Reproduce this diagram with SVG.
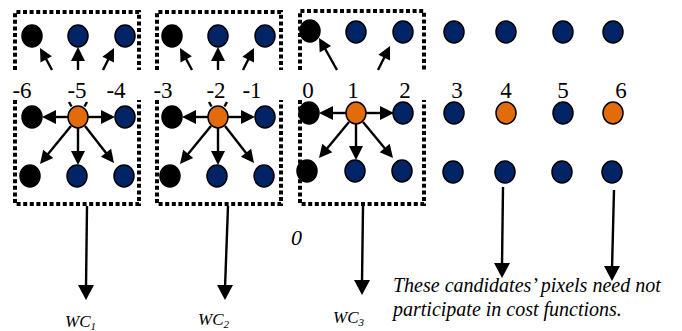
<svg xmlns="http://www.w3.org/2000/svg" width="682" height="331" viewBox="0 0 682 331">
<style>
.frame{fill:none;stroke:#000;stroke-width:4;stroke-dasharray:4 2.6}
.blk{fill:#000;stroke:#000;stroke-width:1.5}
.blu{fill:#002465;stroke:#000;stroke-width:1.5}
.org{fill:#E36C0A;stroke:#000;stroke-width:1.5}
.ln{stroke:#000;stroke-width:2.4;fill:none}
.hd{fill:#000;stroke:none}
.lab{font-family:"Liberation Serif",serif;font-size:23px;fill:#000;text-anchor:middle}
.it{font-family:"Liberation Serif",serif;font-style:italic;fill:#000}
</style>
<rect width="682" height="331" fill="#fff"/>

<!-- frames -->
<g id="frame-wc1"><path class="frame" d="M15,70 V12 H139 V70"/><path class="frame" d="M15,100 V204 H139 V100"/></g>
<g id="frame-wc2"><path class="frame" d="M157,70 V12 H281 V70"/><path class="frame" d="M157,100 V204 H281 V100"/></g>
<g id="frame-wc3"><path class="frame" d="M300,70 V11 H424 V70"/><path class="frame" d="M300,100 V204 H424 V100"/></g>

<!-- connectors -->
<g id="connectors">
 <!-- box 1 -->
 <line class="ln" x1="68" y1="117" x2="50" y2="117"/><polygon class="hd" points="42,117 56,110 56,124"/>
 <line class="ln" x1="88" y1="117" x2="107" y2="117"/><polygon class="hd" points="115,117 101,110 101,124"/>
 <line class="ln" x1="78" y1="128" x2="78" y2="156"/><polygon class="hd" points="78,165 71,151 85,151"/>
 <line class="ln" x1="71" y1="126" x2="46" y2="156.5"/><polygon class="hd" points="40,164 43.2,149.8 53.2,158"/>
 <line class="ln" x1="85" y1="126" x2="108" y2="155.5"/><polygon class="hd" points="114,163 100.9,156.8 111.1,148.8"/>
 <line class="ln" x1="52" y1="70" x2="45" y2="57"/><polygon class="hd" points="40,48 51.9,56.3 40.5,62.5"/>
 <line class="ln" x1="78" y1="70" x2="78" y2="56"/><polygon class="hd" points="78,47 71,61 85,61"/>
 <line class="ln" x1="103" y1="70" x2="109.5" y2="57"/><polygon class="hd" points="114,48 114,62.5 102.4,56.7"/>
 <line class="ln" x1="69" y1="102" x2="71.5" y2="106.5"/>
 <line class="ln" x1="87" y1="102" x2="84.5" y2="106.5"/>
 <!-- box 2 -->
 <line class="ln" x1="208" y1="117" x2="190" y2="117"/><polygon class="hd" points="182,117 196,110 196,124"/>
 <line class="ln" x1="228" y1="117" x2="247" y2="117"/><polygon class="hd" points="255,117 241,110 241,124"/>
 <line class="ln" x1="218" y1="128" x2="218" y2="156"/><polygon class="hd" points="218,165 211,151 225,151"/>
 <line class="ln" x1="211" y1="126" x2="186" y2="156.5"/><polygon class="hd" points="180,164 183.2,149.8 193.2,158"/>
 <line class="ln" x1="225" y1="126" x2="248" y2="155.5"/><polygon class="hd" points="254,163 240.9,156.8 251.1,148.8"/>
 <line class="ln" x1="192" y1="70" x2="185" y2="57"/><polygon class="hd" points="180,48 191.9,56.3 180.5,62.5"/>
 <line class="ln" x1="218" y1="70" x2="218" y2="56"/><polygon class="hd" points="218,47 211,61 225,61"/>
 <line class="ln" x1="243" y1="70" x2="249.5" y2="57"/><polygon class="hd" points="254,48 254,62.5 242.4,56.7"/>
 <line class="ln" x1="209" y1="102" x2="211.5" y2="106.5"/>
 <line class="ln" x1="227" y1="102" x2="224.5" y2="106.5"/>
 <!-- box 3 -->
 <line class="ln" x1="346" y1="113" x2="327" y2="113"/><polygon class="hd" points="319,113 333,106 333,120"/>
 <line class="ln" x1="366" y1="113" x2="386" y2="113"/><polygon class="hd" points="394,113 380,106 380,120"/>
 <line class="ln" x1="356" y1="124" x2="356" y2="152"/><polygon class="hd" points="356,160 349,146 363,146"/>
 <line class="ln" x1="349" y1="122" x2="325" y2="151"/><polygon class="hd" points="319,158 322.3,143.8 332.3,152.2"/>
 <line class="ln" x1="363" y1="122" x2="387" y2="151"/><polygon class="hd" points="393,158 379.7,152.2 389.7,143.8"/>
 <line class="ln" x1="337" y1="70" x2="323" y2="45"/><polygon class="hd" points="319,38 331.1,46.1 319.7,52.5"/>
 <line class="ln" x1="378" y1="70" x2="386" y2="54"/><polygon class="hd" points="390,46 390,60.5 378.4,54.7"/>
 <!-- outputs -->
 <line class="ln" x1="87" y1="206" x2="86" y2="288"/><polygon class="hd" points="86,300 78,285 94,285"/>
 <line class="ln" x1="228" y1="206" x2="225" y2="288"/><polygon class="hd" points="225,300 217,285 233,285"/>
 <line class="ln" x1="363" y1="206" x2="362" y2="283"/><polygon class="hd" points="362,295 354,280 370,280"/>
 <line class="ln" x1="503" y1="187" x2="502" y2="266"/><polygon class="hd" points="502,278 494,263 510,263"/>
 <line class="ln" x1="614" y1="190" x2="612" y2="269"/><polygon class="hd" points="612,281 604,266 620,266"/>
</g>

<!-- box 1 nodes -->
<g id="n-b1-t0"><ellipse class="blk" cx="32" cy="36" rx="10" ry="11"/></g>
<g id="n-b1-t1"><ellipse class="blu" cx="78" cy="36" rx="10" ry="11"/></g>
<g id="n-b1-t2"><ellipse class="blu" cx="125" cy="36" rx="10" ry="11"/></g>
<g id="n-b1-m0"><ellipse class="blk" cx="32" cy="117" rx="10" ry="11"/></g>
<g id="n-b1-m1"><ellipse class="org" cx="78" cy="117" rx="10" ry="11"/></g>
<g id="n-b1-m2"><ellipse class="blu" cx="125" cy="117" rx="10" ry="11"/></g>
<g id="n-b1-b0"><ellipse class="blk" cx="30" cy="176" rx="10" ry="11"/></g>
<g id="n-b1-b1"><ellipse class="blu" cx="77" cy="176" rx="10" ry="11"/></g>
<g id="n-b1-b2"><ellipse class="blu" cx="124" cy="176" rx="10" ry="11"/></g>
<!-- box 2 nodes -->
<g id="n-b2-t0"><ellipse class="blk" cx="172" cy="36" rx="10" ry="11"/></g>
<g id="n-b2-t1"><ellipse class="blu" cx="218" cy="36" rx="10" ry="11"/></g>
<g id="n-b2-t2"><ellipse class="blu" cx="265" cy="36" rx="10" ry="11"/></g>
<g id="n-b2-m0"><ellipse class="blk" cx="172" cy="117" rx="10" ry="11"/></g>
<g id="n-b2-m1"><ellipse class="org" cx="218" cy="117" rx="10" ry="11"/></g>
<g id="n-b2-m2"><ellipse class="blu" cx="265" cy="117" rx="10" ry="11"/></g>
<g id="n-b2-b0"><ellipse class="blk" cx="170" cy="176" rx="10" ry="11"/></g>
<g id="n-b2-b1"><ellipse class="blu" cx="217" cy="176" rx="10" ry="11"/></g>
<g id="n-b2-b2"><ellipse class="blu" cx="264" cy="176" rx="10" ry="11"/></g>
<!-- box 3 nodes -->
<g id="n-b3-t0"><ellipse class="blk" cx="310" cy="31" rx="10" ry="11"/></g>
<g id="n-b3-t1"><ellipse class="blu" cx="356" cy="32" rx="10" ry="11"/></g>
<g id="n-b3-t2"><ellipse class="blu" cx="403" cy="32" rx="10" ry="11"/></g>
<g id="n-b3-m0"><ellipse class="blk" cx="309" cy="113" rx="10" ry="11"/></g>
<g id="n-b3-m1"><ellipse class="org" cx="356" cy="113" rx="10" ry="11"/></g>
<g id="n-b3-m2"><ellipse class="blu" cx="403" cy="113" rx="10" ry="11"/></g>
<g id="n-b3-b0"><ellipse class="blk" cx="307" cy="171" rx="10" ry="11"/></g>
<g id="n-b3-b1"><ellipse class="blu" cx="355" cy="171" rx="10" ry="11"/></g>
<g id="n-b3-b2"><ellipse class="blu" cx="402" cy="171" rx="10" ry="11"/></g>
<!-- free grid -->
<g id="n-g-t3"><ellipse class="blu" cx="454" cy="32" rx="10" ry="11"/></g>
<g id="n-g-t4"><ellipse class="blu" cx="506" cy="32" rx="10" ry="11"/></g>
<g id="n-g-t5"><ellipse class="blu" cx="563" cy="32" rx="10" ry="11"/></g>
<g id="n-g-t6"><ellipse class="blu" cx="613" cy="32" rx="10" ry="11"/></g>
<g id="n-g-m3"><ellipse class="blu" cx="454" cy="113" rx="10" ry="11"/></g>
<g id="n-g-m4"><ellipse class="org" cx="506" cy="113" rx="10" ry="11"/></g>
<g id="n-g-m5"><ellipse class="blu" cx="563" cy="113" rx="10" ry="11"/></g>
<g id="n-g-m6"><ellipse class="org" cx="613" cy="113" rx="10" ry="11"/></g>
<g id="n-g-b3"><ellipse class="blu" cx="453" cy="172" rx="10" ry="11"/></g>
<g id="n-g-b4"><ellipse class="blu" cx="505" cy="172" rx="10" ry="11"/></g>
<g id="n-g-b5"><ellipse class="blu" cx="562" cy="172" rx="10" ry="11"/></g>
<g id="n-g-b6"><ellipse class="blu" cx="612" cy="172" rx="10" ry="11"/></g>

<!-- index labels -->
<g id="labels">
 <text class="lab" x="22" y="98">-6</text>
 <text class="lab" x="77" y="98">-5</text>
 <text class="lab" x="116" y="98">-4</text>
 <text class="lab" x="163" y="98">-3</text>
 <text class="lab" x="216" y="98">-2</text>
 <text class="lab" x="252" y="98">-1</text>
 <text class="lab" x="308" y="98">0</text>
 <text class="lab" x="353" y="98">1</text>
 <text class="lab" x="405" y="98">2</text>
 <text class="lab" x="457" y="98">3</text>
 <text class="lab" x="506" y="98">4</text>
 <text class="lab" x="563" y="98">5</text>
 <text class="lab" x="621" y="98">6</text>
</g>

<g id="out-labels">
 <text class="it" x="65" y="327" font-size="17">WC<tspan font-size="11" dy="3">1</tspan></text>
 <text class="it" x="198" y="325" font-size="17">WC<tspan font-size="11" dy="3">2</tspan></text>
 <text class="it" x="333" y="323" font-size="17">WC<tspan font-size="11" dy="3">3</tspan></text>
 <text class="it" x="291" y="245" font-size="22">0</text>
 <text class="it" x="393" y="292" font-size="20">These candidates’ pixels need not</text>
 <text class="it" x="393" y="316" font-size="20">participate in cost functions.</text>
</g>
</svg>
